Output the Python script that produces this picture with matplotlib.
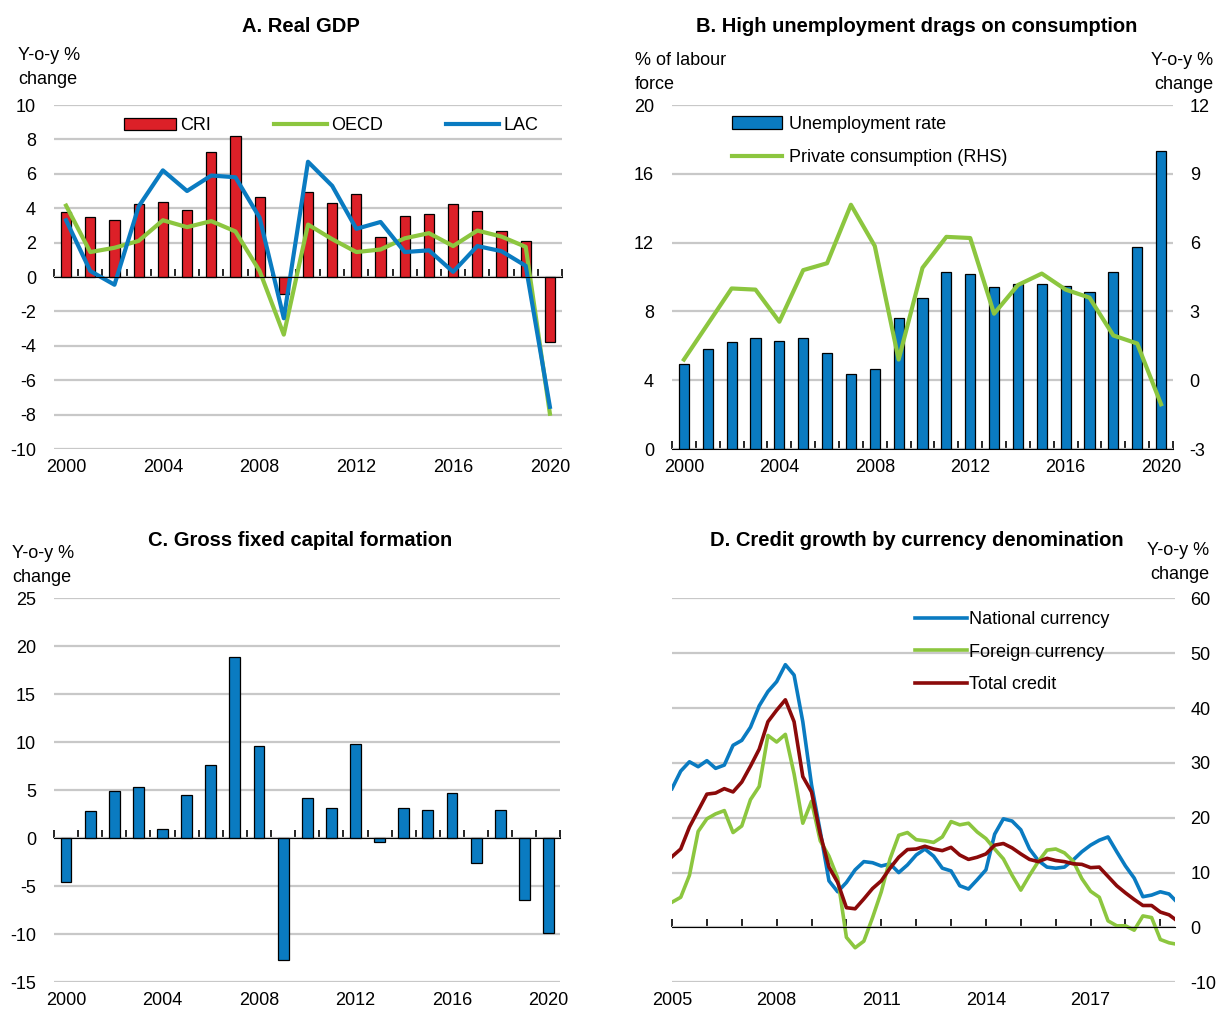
import matplotlib
matplotlib.use("Agg")
import matplotlib.pyplot as plt
import numpy as np

plt.rcParams["font.family"] = ["Liberation Sans Narrow", "Liberation Sans", "DejaVu Sans"]
plt.rcParams["font.size"] = 13
plt.rcParams["axes.unicode_minus"] = False

RED = "#dc2028"
GREEN = "#8cc63f"
BLUE = "#0a7bc1"
DARKRED = "#8b0a0a"
GRID = "#c8c8c8"

# Panel A: real GDP, y-o-y % change
years = list(range(2000, 2021))
cri_gdp = [3.8, 3.5, 3.3, 4.25, 4.35, 3.9, 7.25, 8.2, 4.65, -1.0, 4.95,
           4.3, 4.8, 2.3, 3.55, 3.65, 4.25, 3.85, 2.65, 2.1, -3.8]
oecd_gdp = [4.15, 1.45, 1.7, 2.1, 3.3, 2.9, 3.25, 2.65, 0.35, -3.35, 3.05,
            2.2, 1.45, 1.6, 2.25, 2.55, 1.8, 2.7, 2.35, 1.75, -7.95]
lac_gdp = [3.3, 0.35, -0.45, 4.1, 6.2, 5.0, 5.9, 5.8, 3.45, -2.4, 6.7,
           5.3, 2.8, 3.2, 1.45, 1.55, 0.3, 1.8, 1.5, 0.65, -7.55]

# Panel B: unemployment rate (% of labour force) and private consumption (RHS)
unemployment = [4.95, 5.8, 6.2, 6.45, 6.3, 6.45, 5.6, 4.35, 4.65, 7.6, 8.8,
                10.3, 10.2, 9.4, 9.6, 9.6, 9.5, 9.1, 10.3, 11.75, 17.3]
private_cons = [0.9, 2.45, 4.0, 3.95, 2.55, 4.8, 5.1, 7.65, 5.85, 0.9, 4.9,
                6.25, 6.2, 2.9, 4.15, 4.65, 3.95, 3.6, 1.95, 1.6, -1.05]

# Panel C: gross fixed capital formation, y-o-y % change
gfcf = [-4.6, 2.8, 4.9, 5.3, 0.95, 4.5, 7.6, 18.9, 9.6, -12.7, 4.2,
        3.15, 9.8, -0.4, 3.15, 2.9, 4.7, -2.55, 2.95, -6.45, -9.9]

# Panel D: credit growth by currency, y-o-y % change (quarterly readings, last = May 2019)
credit_dates = [2005.0, 2005.25, 2005.5, 2005.75, 2006.0, 2006.25, 2006.5, 2006.75,
                2007.0, 2007.25, 2007.5, 2007.75, 2008.0, 2008.25, 2008.5, 2008.75,
                2009.0, 2009.25, 2009.5, 2009.75, 2010.0, 2010.25, 2010.5, 2010.75,
                2011.0, 2011.25, 2011.5, 2011.75, 2012.0, 2012.25, 2012.5, 2012.75,
                2013.0, 2013.25, 2013.5, 2013.75, 2014.0, 2014.25, 2014.5, 2014.75,
                2015.0, 2015.25, 2015.5, 2015.75, 2016.0, 2016.25, 2016.5, 2016.75,
                2017.0, 2017.25, 2017.5, 2017.75, 2018.0, 2018.25, 2018.5, 2018.75,
                2019.0, 2019.25, 2019.42]
national = [25.3, 28.5, 30.2, 29.3, 30.4, 29.0, 29.6, 33.2,
            34.1, 36.5, 40.4, 43.0, 44.8, 47.9, 46.0, 37.5,
            26.0, 17.5, 8.5, 6.5, 8.2, 10.5, 12.0, 11.8,
            11.2, 11.6, 10.0, 11.4, 13.2, 14.3, 13.0, 10.8,
            10.3, 7.6, 7.0, 8.7, 10.5, 17.0, 19.8, 19.4,
            17.8, 14.3, 12.2, 11.0, 10.8, 11.0, 12.3, 13.8,
            15.0, 15.9, 16.5, 13.8, 11.2, 9.0, 5.6, 5.9,
            6.5, 6.1, 5.0]
foreign = [4.6, 5.5, 9.5, 17.5, 19.8, 20.7, 21.3, 17.3,
           18.5, 23.3, 25.7, 35.0, 33.8, 35.2, 28.0, 19.0,
           23.0, 15.8, 13.0, 9.0, -1.8, -3.7, -2.5, 1.8,
           6.5, 12.5, 16.8, 17.3, 16.0, 15.8, 15.5, 16.5,
           19.3, 18.7, 19.0, 17.4, 16.2, 14.3, 12.5, 9.5,
           6.8, 9.5, 12.0, 14.1, 14.3, 13.6, 12.1, 8.9,
           6.6, 5.5, 1.2, 0.3, 0.3, -0.5, 2.1, 1.8,
           -2.2, -2.8, -3.0]
total = [12.9, 14.3, 18.3, 21.3, 24.3, 24.5, 25.3, 24.7,
         26.5, 29.4, 32.5, 37.5, 39.6, 41.5, 37.5, 27.5,
         24.7, 17.0, 11.0, 8.2, 3.6, 3.4, 5.2, 7.1,
         8.5, 10.8, 12.8, 14.2, 14.3, 14.8, 14.3, 14.0,
         14.6, 13.2, 12.4, 12.8, 13.4, 15.0, 15.3, 14.5,
         13.4, 12.4, 12.0, 12.6, 12.2, 12.0, 11.6, 11.5,
         10.9, 11.0, 9.3, 7.6, 6.3, 5.1, 4.0, 4.0,
         2.8, 2.3, 1.5]

year_labels = [2000, 2004, 2008, 2012, 2016, 2020]
credit_labels = [2005, 2008, 2011, 2014, 2017]


def style_axes(ax, ymin, ymax, step, label_years, boundaries, zero=True):
    ax.set_ylim(ymin, ymax)
    ax.set_yticks(np.arange(ymin, ymax + step / 2, step))
    ax.yaxis.grid(True, color=GRID, lw=1.6)
    ax.set_axisbelow(True)
    ax.tick_params(axis="y", length=0, pad=13)
    for s in ["top", "left", "right"]:
        ax.spines[s].set_visible(False)
    if zero:
        ax.spines["bottom"].set_position(("data", 0))
    ax.spines["bottom"].set_color("black")
    ax.spines["bottom"].set_zorder(4)
    ax.set_xticks(boundaries)
    ax.tick_params(axis="x", direction="in", length=6, width=1.2, labelbottom=False)
    sec = ax.secondary_xaxis("bottom")
    sec.set_xticks(label_years)
    sec.set_xticklabels([str(y) for y in label_years])
    sec.tick_params(length=0, pad=7)
    sec.spines["bottom"].set_visible(False)


fig = plt.figure(figsize=(12.18, 10.09), dpi=100)
bounds = np.arange(1999.5, 2021, 1.0)

# ---- A
axA = fig.add_axes([0.04433, 0.5550, 0.41708, 0.34093])
bars = axA.bar(years, cri_gdp, width=0.42, color=RED, edgecolor="black", lw=0.9, label="CRI", zorder=2)
l1, = axA.plot(years, oecd_gdp, color=GREEN, lw=3, label="OECD", zorder=3)
l2, = axA.plot(years, lac_gdp, color=BLUE, lw=3, label="LAC", zorder=3)
axA.set_xlim(1999.5, 2020.5)
style_axes(axA, -10, 10, 2, year_labels, bounds)
axA.legend([bars, l1, l2], ["CRI", "OECD", "LAC"], loc="upper center",
           bbox_to_anchor=(0.545, 0.985), ncol=3, frameon=False,
           handlelength=2.9, handletextpad=0.25, columnspacing=3.5, borderaxespad=0)

# ---- B
axB = fig.add_axes([0.55172, 0.5550, 0.41133, 0.34093])
axB.bar(years, unemployment, width=0.42, color=BLUE, edgecolor="black", lw=0.9,
        label="Unemployment rate", zorder=2)
axB.set_xlim(1999.5, 2020.5)
style_axes(axB, 0, 20, 4, year_labels, bounds, zero=False)
axB2 = axB.twinx()
axB2.plot(years, private_cons, color=GREEN, lw=3, label="Private consumption (RHS)")
axB2.set_ylim(-3, 12)
axB2.set_yticks(np.arange(-3, 13, 3))
axB2.tick_params(axis="y", length=0, pad=12)
for s in ["top", "left", "right", "bottom"]:
    axB2.spines[s].set_visible(False)
hb, lb = axB.get_legend_handles_labels()
hl, ll = axB2.get_legend_handles_labels()
axB2.legend(hb + hl, lb + ll, loc="upper left", bbox_to_anchor=(0.105, 0.99), frameon=False,
            handlelength=2.8, handletextpad=0.35, labelspacing=0.9, borderaxespad=0)

# ---- C
axC = fig.add_axes([0.04433, 0.02646, 0.41585, 0.38058])
axC.bar(years, gfcf, width=0.45, color=BLUE, edgecolor="black", lw=0.9, zorder=2)
axC.set_xlim(1999.5, 2020.5)
style_axes(axC, -15, 25, 5, year_labels, bounds)

# ---- D
axD = fig.add_axes([0.55172, 0.02646, 0.41297, 0.38058])
axD.plot(credit_dates, national, color=BLUE, lw=2.6, label="National currency")
axD.plot(credit_dates, foreign, color=GREEN, lw=2.6, label="Foreign currency")
axD.plot(credit_dates, total, color=DARKRED, lw=2.6, label="Total credit")
axD.set_xlim(2005, 2019.42)
style_axes(axD, -10, 60, 10, credit_labels, list(range(2005, 2020)))
axD.yaxis.tick_right()
axD.tick_params(axis="y", length=0, pad=11)
axD.legend(loc="upper left", bbox_to_anchor=(0.468, 0.985), frameon=False,
           handlelength=2.9, handletextpad=0.1, labelspacing=0.85, borderaxespad=0)

# titles and axis captions
kw = dict(ha="center", va="center", fontsize=14.5, fontweight="bold")
fig.text(301 / 1218, 1 - 26 / 1009, "A. Real GDP", **kw)
fig.text(917 / 1218, 1 - 26 / 1009, "B. High unemployment drags on consumption", **kw)
fig.text(300 / 1218, 1 - 540 / 1009, "C. Gross fixed capital formation", **kw)
fig.text(917 / 1218, 1 - 540 / 1009, "D. Credit growth by currency denomination", **kw)

cap = dict(va="top", linespacing=1.55)
fig.text(18 / 1218, 1 - 47 / 1009, "Y-o-y %\nchange", ha="left", **cap)
fig.text(635 / 1218, 1 - 52 / 1009, "% of labour\nforce", ha="left", **cap)
fig.text(1213 / 1218, 1 - 52 / 1009, "Y-o-y %\nchange", ha="right", multialignment="right", **cap)
fig.text(12 / 1218, 1 - 545 / 1009, "Y-o-y %\nchange", ha="left", **cap)
fig.text(1209 / 1218, 1 - 542 / 1009, "Y-o-y %\nchange", ha="right", multialignment="right", **cap)

fig.savefig("out.png", dpi=100)
